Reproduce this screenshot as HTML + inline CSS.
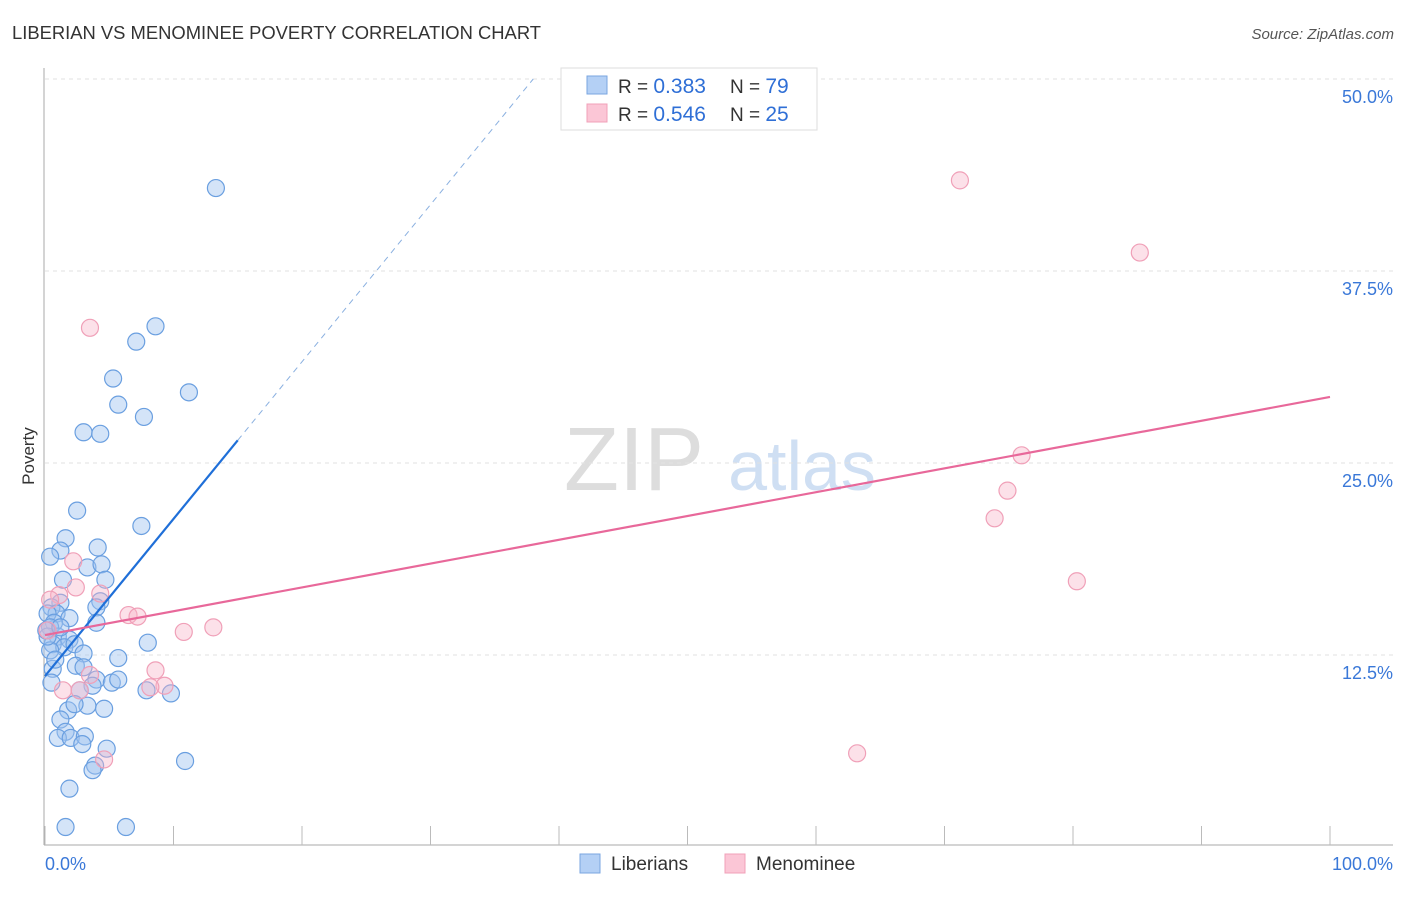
<!DOCTYPE html>
<html><head><meta charset="utf-8"><style>
body{margin:0;background:#fff;font-family:"Liberation Sans",sans-serif}
svg text{font-family:"Liberation Sans",sans-serif}
</style></head><body>
<svg id="c" width="1406" height="892">
<text x="12" y="39" font-size="18.4" fill="#333">LIBERIAN VS MENOMINEE POVERTY CORRELATION CHART</text>
<text x="1394" y="39" font-size="15" fill="#555" font-style="italic" text-anchor="end">Source: ZipAtlas.com</text>
<text x="634" y="490" font-size="90" fill="#ddd" font-family="Liberation Serif" text-anchor="middle">ZIP</text>
<text x="802" y="490" font-size="70" fill="#cfdff3" text-anchor="middle">atlas</text>
<text x="34" y="456" font-size="17" fill="#333" transform="rotate(-90 34 456)" text-anchor="middle">Poverty</text>
<g id="grid"></g><g id="pts"></g><g id="lines"></g>
<g>
<rect x="561" y="68" width="256" height="62" fill="#fff" stroke="#ddd"/>
<rect x="587" y="76" width="20" height="18" fill="#b4d0f5" stroke="#7aa6e0"/>
<rect x="587" y="104" width="20" height="18" fill="#fbc6d6" stroke="#f0a0b8"/>
<text x="618" y="93" font-size="19" fill="#333">R = <tspan fill="#2f6fd6" font-size="21">0.383</tspan></text>
<text x="730" y="93" font-size="19" fill="#333">N = <tspan fill="#2f6fd6" font-size="21">79</tspan></text>
<text x="618" y="121" font-size="19" fill="#333">R = <tspan fill="#2f6fd6" font-size="21">0.546</tspan></text>
<text x="730" y="121" font-size="19" fill="#333">N = <tspan fill="#2f6fd6" font-size="21">25</tspan></text>
</g>
<g>
<rect x="580" y="854" width="20" height="19" fill="#b4d0f5" stroke="#7aa6e0"/>
<text x="611" y="870" font-size="19" fill="#333">Liberians</text>
<rect x="725" y="854" width="20" height="19" fill="#fbc6d6" stroke="#f0a0b8"/>
<text x="756" y="870" font-size="19" fill="#333">Menominee</text>
</g>
</svg>
<script>
const yTicks=[12.5,25,37.5,50];
const yTickLabels=["12.5%","25.0%","37.5%","50.0%"];
const xTickVals=[0,10,20,30,40,50,60,70,80,90,100];
const blueX=[13.3,8.6,7.1,5.3,11.2,5.7,7.7,3.0,4.3,2.5,7.5,1.6,4.1,1.2,0.4,3.3,4.4,1.4,4.7,4.3,4.0,1.2,0.5,0.9,0.2,1.9,0.7,4.0,0.4,1.0,1.9,8.0,0.6,1.5,2.3,0.4,3.0,5.7,2.4,0.6,3.0,4.0,3.7,5.2,5.7,0.5,7.9,9.8,2.7,1.8,3.3,2.3,4.6,1.2,1.6,1.0,2.0,3.1,2.9,4.8,3.9,3.7,10.9,1.9,1.6,6.3,0.2,0.1,1.2,0.8];
const blueY=[42.9,33.9,32.9,30.5,29.6,28.8,28.0,27.0,26.9,21.9,20.9,20.1,19.5,19.3,18.9,18.2,18.4,17.4,17.4,16.0,15.6,15.9,15.6,15.2,15.2,14.9,14.6,14.6,14.3,13.7,13.5,13.3,13.2,13.0,13.2,12.8,12.6,12.3,11.8,11.6,11.7,10.9,10.5,10.7,10.9,10.7,10.2,10.0,10.2,8.9,9.2,9.3,9.0,8.3,7.5,7.1,7.1,7.2,6.7,6.4,5.3,5.0,5.6,3.8,1.3,1.3,13.7,14.1,14.3,12.2];
const pinkX=[3.5,71.2,85.2,76.0,74.9,73.9,80.3,63.2,2.2,2.4,1.1,4.3,6.5,7.2,10.8,13.1,8.6,9.3,8.2,1.4,2.7,4.6,0.2,3.5,0.4];
const pinkY=[33.8,43.4,38.7,25.5,23.2,21.4,17.3,6.1,18.6,16.9,16.4,16.5,15.1,15.0,14.0,14.3,11.5,10.5,10.4,10.2,10.2,5.7,14.1,11.2,16.1];
const blueTrend=[11.13,1.023];
const pinkTrend=[13.8,29.3];
const NS="http://www.w3.org/2000/svg";
const X0=45,X1=1330,Y0=847,PY=15.36;
const sx=v=>X0+(X1-X0)*v/100, sy=v=>Y0-v*PY;
function mk(t,a,p){const e=document.createElementNS(NS,t);for(const k in a)e.setAttribute(k,a[k]);p.appendChild(e);return e;}
const grid=document.getElementById('grid');
yTicks.forEach((t,i)=>{
 const l=mk('line',{x1:45,x2:1393,y1:sy(t),y2:sy(t),stroke:'#e2e2e2','stroke-dasharray':'4,4'},grid);
 
 
 const tx=mk('text',{x:1393,y:sy(t)+24,'font-size':18,fill:'#3a78d8','text-anchor':'end'},grid);tx.textContent=yTickLabels[i];
 
 
});
const ax=mk('line',{x1:44,x2:44,y1:68,y2:845,stroke:'#aaa'},grid);


const bx=mk('line',{x1:44,x2:1393,y1:845,y2:845,stroke:'#aaa'},grid);


xTickVals.forEach(v=>{const t=mk('line',{x1:sx(v),x2:sx(v),y1:826,y2:845,stroke:'#bbb'},grid);
 
 });
[["0.0%",45,'start'],["100.0%",1393,'end']].forEach(d=>{const t=mk('text',{x:d[1],y:870,'font-size':18,fill:'#3a78d8','text-anchor':d[2]},grid);t.textContent=d[0];
 
 });
const pts=document.getElementById('pts');
blueX.forEach((x,i)=>{const c=mk('circle',{cx:sx(x),cy:sy(blueY[i]),r:8.5,fill:'rgba(160,196,240,0.45)',stroke:'#6a9fe0','stroke-width':1.2},pts);
 
 });
pinkX.forEach((x,i)=>{const c=mk('circle',{cx:sx(x),cy:sy(pinkY[i]),r:8.5,fill:'rgba(248,180,200,0.4)',stroke:'#f0a0b8','stroke-width':1.2},pts);
 
 });
const lines=document.getElementById('lines');
const bf=x=>blueTrend[0]+blueTrend[1]*x;
const xEnd=(50-blueTrend[0])/blueTrend[1];
const b1=mk('line',{x1:sx(0),y1:sy(bf(0)),x2:sx(15),y2:sy(bf(15)),stroke:'#1f6fd8','stroke-width':2.2},lines);


const b2=mk('line',{x1:sx(15),y1:sy(bf(15)),x2:sx(xEnd),y2:sy(50),stroke:'#8ab0e0','stroke-width':1,'stroke-dasharray':'6,5'},lines);


const p1=mk('line',{x1:sx(0),y1:sy(pinkTrend[0]),x2:sx(100),y2:sy(pinkTrend[1]),stroke:'#e8689a','stroke-width':2.2},lines);


</script>
</body></html>
